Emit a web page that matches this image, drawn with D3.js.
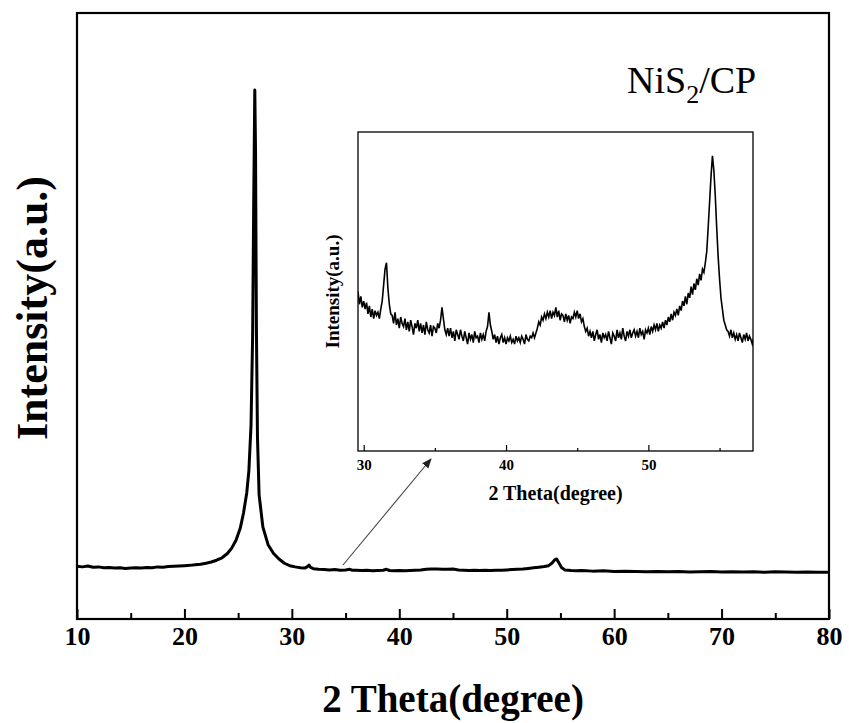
<!DOCTYPE html>
<html>
<head>
<meta charset="utf-8">
<script src="https://cdn.jsdelivr.net/npm/d3@7"></script>
<style>
  body { margin: 0; background: #fff; }
  text { font-family: "Times New Roman", "Liberation Serif", serif; fill: #000; }
</style>
</head>
<body>
<div id="chart"></div>
<script>
// main pattern (2theta, intensity a.u.)
const mainTheta = [10, 10.5, 11, 11.5, 12, 12.5, 13, 13.5, 14, 14.5, 15, 15.5, 16, 16.5, 17, 17.5, 18, 18.5, 19, 19.5,
  20, 20.5, 21, 21.5, 22, 22.5, 23, 23.5, 24, 24.4, 24.8, 25.2, 25.5, 25.8, 26.0, 26.2, 26.35, 26.45, 26.55, 26.62,
  26.7, 26.8, 26.95, 27.3, 27.8, 28.3, 28.8, 29.3, 29.8, 30.3, 30.8, 31.2, 31.45, 31.6, 31.75, 32, 32.5, 33, 33.5, 34,
  34.5, 35, 35.4, 35.6, 36, 36.5, 37, 37.5, 38, 38.5, 38.8, 39.1, 39.5, 40, 40.5, 41, 41.5, 42, 42.5, 43,
  43.5, 44, 44.5, 45, 45.5, 46, 46.5, 47, 47.5, 48, 48.5, 49, 49.5, 50, 50.5, 51, 51.5, 52, 52.5, 53,
  53.5, 53.9, 54.2, 54.5, 54.65, 54.85, 55.1, 55.4, 56, 56.5, 57, 58, 59, 60, 61, 62, 63, 64, 65, 66,
  67, 68, 69, 70, 71, 72, 73, 74, 75, 76, 77, 78, 79, 80];
const mainIntensity = [87, 86, 87.5, 85.5, 86, 84.5, 85, 84, 84.5, 83.5, 84, 84.5, 84, 85, 84.5, 86, 85.5, 86.5, 87, 87.5,
  88, 88.5, 89.5, 90.5, 92, 94, 97, 101, 108, 117, 130, 150, 175, 208, 245, 320, 470, 690, 873, 770,
  480, 300, 205, 152, 122, 108, 99, 92, 88, 86, 84.5, 84, 86.5, 89, 85, 83, 82, 81.5, 81, 81.5,
  80.5, 81, 82, 80.5, 80.5, 80, 80.5, 79.5, 80, 80.5, 82, 80, 79.5, 80, 79.5, 80, 80.5, 81, 82, 82.5,
  82.5, 82, 82, 82.5, 81, 80.5, 80, 80.5, 80, 80.5, 80, 80.5, 80.5, 81, 81.5, 82, 82.5, 83.5, 84.5, 85.5,
  86.5, 88, 92, 98, 99, 93, 85, 81, 80, 79.5, 80, 79, 79.5, 78.5, 79, 78.5, 78, 78.5, 78, 78.5,
  77.5, 78, 78.5, 77.5, 78, 77.5, 78, 77, 78, 77.5, 77, 77.5, 77, 77];

// inset scan, 29.6 to 57.4 degrees, one value every 0.1 degree
const insetStart = 29.6;
const insetStep = 0.1;
const insetIntensity = [50, 46, 48.5, 45,
  47, 44.5, 46.5, 43, 45.5, 42, 44.5, 41.5, 44, 42.5,
  43.5, 41.5, 44.5, 47, 52, 57, 59, 51, 46, 43,
  42.5, 40, 43.5, 39.5, 41.5, 38.5, 42, 40, 39, 41.5,
  38, 40.5, 37.5, 41, 39, 36.5, 40, 38.5, 41, 37.5,
  40, 37, 39.5, 36.5, 40.5, 38, 37, 39.5, 36, 39,
  38.5, 37, 40, 38.5, 41, 45, 41.5, 38, 36.5, 38.5,
  36, 38.5, 35.5, 37.5, 34.5, 38, 36.5, 35, 38, 36,
  34.5, 37.5, 35.5, 33.5, 37, 35, 36.5, 34, 37.5, 35.5,
  36, 34, 37, 35, 36.5, 34.5, 37.5, 39, 43.5, 39.5,
  37.5, 35, 36.5, 34, 36, 33.5, 35.5, 36.5, 34, 35.5,
  33.5, 35.5, 34.5, 36, 34, 35, 33.5, 36, 34.5, 35.5,
  34, 36, 35, 33.5, 36.5, 35, 34.5, 36, 35.5, 37,
  35.5, 37, 38.5, 40.5, 39.5, 42, 41, 43, 41.5, 43.5,
  42, 44, 41.5, 43.5, 42.5, 45, 42, 44, 41, 43,
  42.5, 40.5, 43, 41, 42.5, 40, 42, 41.5, 43.5, 42,
  44, 41.5, 43, 40.5, 41.5, 39, 37.5, 38.5, 36, 37.5,
  35.5, 37.5, 34.5, 36.5, 38, 35, 36.5, 34, 37, 35.5,
  36.5, 34.5, 37.5, 35.5, 33.5, 37, 36, 34.5, 38, 35.5,
  37, 35, 38.5, 36, 34.5, 37.5, 36, 38, 35.5, 37,
  38, 36, 37.5, 35.5, 38.5, 36.5, 37.5, 35, 38, 37,
  38.5, 36.5, 39, 37.5, 39.5, 38, 40, 37.5, 39.5, 38.5,
  40.5, 38.5, 41, 39.5, 42, 40.5, 43, 41, 43.5, 42.5,
  44.5, 42.5, 45.5, 44, 47, 45.5, 48.5, 46, 49.5, 48,
  51.5, 49, 52.5, 50.5, 54, 52, 55.5, 53.5, 57, 56,
  59, 62.5, 70, 78, 86, 92.5, 88, 80, 70, 61,
  54, 48, 44.5, 41, 39.5, 38, 37.5, 36, 38, 35.5,
  37, 35, 36.5, 34.5, 37, 35.5, 34, 36.5, 35, 37,
  34.5, 36, 35, 33.5, 35.5];

const mainMajor = [10, 20, 30, 40, 50, 60, 70, 80];
const mainMinor = [15, 25, 35, 45, 55, 65, 75];
const insetMajor = [30, 40, 50];
const insetMinor = [35, 45, 55];

const w = 849, h = 723;
const svg = d3.select("#chart").append("svg").attr("width", w).attr("height", h);

// ---- main plot
const m = {left: 77, right: 829, top: 13, bottom: 619};
const x = d3.scaleLinear().domain([10, 80]).range([m.left, m.right]);
const y = d3.scaleLinear().domain([0, 1000]).range([m.bottom, m.top]);

const mainPts = mainTheta.map((t, i) => [t, mainIntensity[i]]);
svg.append("path")
  .datum(mainPts)
  .attr("fill", "none")
  .attr("stroke", "#000")
  .attr("stroke-width", 3)
  .attr("stroke-linejoin", "round")
  .attr("d", d3.line().x(d => x(d[0])).y(d => y(d[1])));

svg.append("g")
  .attr("transform", `translate(0,${m.bottom})`)
  .call(d3.axisBottom(x).tickValues(mainMajor).tickSize(-10).tickPadding(8).tickFormat(d3.format("d")))
  .call(g => g.select(".domain").remove())
  .call(g => g.selectAll("line").attr("stroke-width", 2))
  .call(g => g.selectAll("text").attr("font-size", 26).attr("font-weight", "bold")
    .attr("font-family", '"Times New Roman", "Liberation Serif", serif'));

svg.append("g")
  .attr("transform", `translate(0,${m.bottom})`)
  .call(d3.axisBottom(x).tickValues(mainMinor).tickSize(-6).tickFormat(""))
  .call(g => g.select(".domain").remove())
  .call(g => g.selectAll("line").attr("stroke-width", 2));

svg.append("rect")
  .attr("x", m.left).attr("y", m.top)
  .attr("width", m.right - m.left).attr("height", m.bottom - m.top)
  .attr("fill", "none").attr("stroke", "#000").attr("stroke-width", 2.2);

svg.append("text")
  .attr("x", (m.left + m.right) / 2).attr("y", 712)
  .attr("text-anchor", "middle")
  .attr("font-size", 39).attr("font-weight", "bold")
  .text("2 Theta(degree)");

svg.append("text")
  .attr("transform", `translate(47,${(m.top + m.bottom) / 2 - 8}) rotate(-90)`)
  .attr("text-anchor", "middle")
  .attr("font-size", 44).attr("font-weight", "bold")
  .text("Intensity(a.u.)");

const title = svg.append("text")
  .attr("x", 627).attr("y", 93)
  .attr("font-size", 38);
title.append("tspan").text("NiS");
title.append("tspan").attr("font-size", 26).attr("dy", 10).text("2");
title.append("tspan").attr("dy", -10).text("/CP");

// ---- arrow towards inset
svg.append("defs").append("marker")
  .attr("id", "head")
  .attr("viewBox", "0 0 10 10")
  .attr("refX", 9).attr("refY", 5)
  .attr("markerWidth", 10).attr("markerHeight", 10)
  .attr("markerUnits", "userSpaceOnUse")
  .attr("orient", "auto")
  .append("path").attr("d", "M0,1 L10,5 L0,9 Z").attr("fill", "#222");

svg.append("line")
  .attr("x1", 343).attr("y1", 565)
  .attr("x2", 431).attr("y2", 459)
  .attr("stroke", "#444").attr("stroke-width", 1.1)
  .attr("marker-end", "url(#head)");

// ---- inset
const ins = {left: 358, right: 753, top: 132, bottom: 451};
const xi = d3.scaleLinear().domain([29.6, 57.35]).range([ins.left, ins.right]);
const yi = d3.scaleLinear().domain([0, 100]).range([ins.bottom, ins.top]);

svg.append("defs").append("clipPath").attr("id", "insclip")
  .append("rect").attr("x", ins.left).attr("y", ins.top)
  .attr("width", ins.right - ins.left).attr("height", ins.bottom - ins.top);

svg.append("rect")
  .attr("x", ins.left).attr("y", ins.top)
  .attr("width", ins.right - ins.left).attr("height", ins.bottom - ins.top)
  .attr("fill", "#fff");

svg.append("path")
  .datum(insetIntensity)
  .attr("clip-path", "url(#insclip)")
  .attr("fill", "none")
  .attr("stroke", "#000")
  .attr("stroke-width", 1.6)
  .attr("d", d3.line().x((d, i) => xi(insetStart + i * insetStep)).y(d => yi(d)));

svg.append("g")
  .attr("transform", `translate(0,${ins.bottom})`)
  .call(d3.axisBottom(xi).tickValues(insetMajor).tickSize(-6).tickPadding(8).tickFormat(d3.format("d")))
  .call(g => g.select(".domain").remove())
  .call(g => g.selectAll("line").attr("stroke-width", 1.2))
  .call(g => g.selectAll("text").attr("font-size", 15).attr("font-weight", "bold")
    .attr("font-family", '"Times New Roman", "Liberation Serif", serif'));

svg.append("g")
  .attr("transform", `translate(0,${ins.bottom})`)
  .call(d3.axisBottom(xi).tickValues(insetMinor).tickSize(-3).tickFormat(""))
  .call(g => g.select(".domain").remove())
  .call(g => g.selectAll("line").attr("stroke-width", 1.2));

svg.append("rect")
  .attr("x", ins.left).attr("y", ins.top)
  .attr("width", ins.right - ins.left).attr("height", ins.bottom - ins.top)
  .attr("fill", "none").attr("stroke", "#000").attr("stroke-width", 1.3);

svg.append("text")
  .attr("x", (ins.left + ins.right) / 2).attr("y", 500)
  .attr("text-anchor", "middle")
  .attr("font-size", 20).attr("font-weight", "bold")
  .text("2 Theta(degree)");

svg.append("text")
  .attr("transform", `translate(339,${(ins.top + ins.bottom) / 2}) rotate(-90)`)
  .attr("text-anchor", "middle")
  .attr("font-size", 19).attr("font-weight", "bold")
  .text("Intensity(a.u.)");
</script>
</body>
</html>
